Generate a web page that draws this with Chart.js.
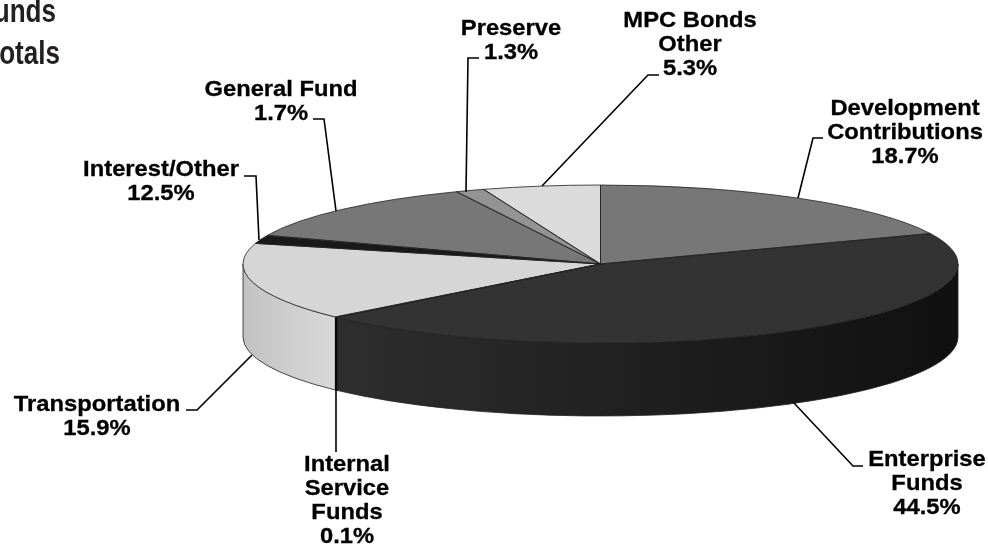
<!DOCTYPE html>
<html>
<head>
<meta charset="utf-8">
<style>
  html, body { margin: 0; padding: 0; background: #fff; overflow: hidden; }
  canvas { display: block; }
</style>
<script src="https://cdn.jsdelivr.net/npm/chart.js@4/dist/chart.umd.min.js"></script>
</head>
<body>
<canvas id="fundsPie" width="988" height="544"></canvas>
<script>
// slice order, clockwise from 12 o'clock
const categories = ['Development Contributions', 'Enterprise Funds', 'Internal Service Funds', 'Transportation',
  'General Fund', 'Interest/Other', 'Preserve', 'MPC Bonds Other'];
const shares = [18.7, 44.5, 0.1, 15.9, 1.7, 12.5, 1.3, 5.3];
const topColors = ['#777777', '#333333', '#111111', '#d6d6d6', '#1a1a1a', '#777777', '#939393', '#dbdbdb'];
const wallFrom = ['#555555', '#2e2e2e', '#111111', '#c2c2c2', '#111111', '#555555', '#666666', '#aaaaaa'];
const wallTo = ['#555555', '#101010', '#111111', '#d9d9d9', '#111111', '#555555', '#666666', '#aaaaaa'];

// the labels, line by line
const labelLines = [
  ['Development', 'Contributions', '18.7%'],
  ['Enterprise', 'Funds', '44.5%'],
  ['Internal', 'Service', 'Funds', '0.1%'],
  ['Transportation', '15.9%'],
  ['Interest/Other', '12.5%'],
  ['General Fund', '1.7%'],
  ['Preserve', '1.3%'],
  ['MPC Bonds', 'Other', '5.3%']
];
// label centre x, first baseline y
const labelAt = [[905, 115], [927, 466], [347, 471], [97, 411], [161, 176], [281, 96], [511, 35], [690, 27]];
const leaders = [
  [[798, 198], [813, 138], [823, 138]],
  [[794, 403], [853, 466], [863, 466]],
  [[336, 318], [336, 452]],
  [[252, 355], [197, 410], [186, 410]],
  [[259, 240], [256, 176], [244, 176]],
  [[336, 211], [324, 119], [313, 119]],
  [[466, 192], [468, 58], [479, 58]],
  [[542, 186], [648, 75], [659, 75]]
];
const titleLines = ['unds', 'otals'];

// the pie is squashed to an ellipse and given a wall
const PIE_RX = 357.5;
const PIE_RY = 79;
const PIE_DEPTH = 73;

function squash(ctx, arc) {
  ctx.translate(arc.x, arc.y);
  ctx.scale(PIE_RX / arc.outerRadius, PIE_RY / arc.outerRadius);
  ctx.translate(-arc.x, -arc.y);
}

const pie3d = {
  id: 'pie3d',
  beforeDatasetsDraw(chart) {
    const ctx = chart.ctx;
    const arcs = chart.getDatasetMeta(0).data;
    const cx = arcs[0].x, cy = arcs[0].y;
    // wall first, only the part of each slice that faces us
    arcs.forEach((arc, i) => {
      const a0 = Math.max(arc.startAngle, 0);
      const a1 = Math.min(arc.endAngle, Math.PI);
      if (a1 <= a0) return;
      const x0 = cx + PIE_RX * Math.cos(a1);
      const x1 = cx + PIE_RX * Math.cos(a0);
      const grad = ctx.createLinearGradient(x0, 0, x1, 0);
      grad.addColorStop(0, wallFrom[i]);
      grad.addColorStop(1, wallTo[i]);
      ctx.beginPath();
      ctx.ellipse(cx, cy, PIE_RX, PIE_RY, 0, a0, a1);
      ctx.ellipse(cx, cy + PIE_DEPTH, PIE_RX, PIE_RY, 0, a1, a0, true);
      ctx.closePath();
      ctx.fillStyle = grad;
      ctx.fill();
      ctx.strokeStyle = '#222222';
      ctx.lineWidth = 0.8;
      ctx.stroke();
    });
    ctx.save();
    squash(ctx, arcs[0]);
  },
  afterDatasetsDraw(chart) {
    const ctx = chart.ctx;
    ctx.restore();
    const arcs = chart.getDatasetMeta(0).data;
    // outlines after the restore so the pen stays round
    arcs.forEach(arc => {
      ctx.save();
      squash(ctx, arc);
      ctx.beginPath();
      ctx.moveTo(arc.x, arc.y);
      ctx.arc(arc.x, arc.y, arc.outerRadius, arc.startAngle, arc.endAngle);
      ctx.closePath();
      ctx.restore();
      ctx.strokeStyle = '#222222';
      ctx.lineWidth = 0.8;
      ctx.stroke();
    });
  },
  afterDraw(chart) {
    const ctx = chart.ctx;
    ctx.save();
    ctx.strokeStyle = '#000';
    ctx.lineWidth = 1.6;
    leaders.forEach(pts => {
      ctx.beginPath();
      pts.forEach((p, i) => i ? ctx.lineTo(p[0], p[1]) : ctx.moveTo(p[0], p[1]));
      ctx.stroke();
    });

    ctx.fillStyle = '#000';
    ctx.textAlign = 'center';
    ctx.textBaseline = 'alphabetic';
    ctx.font = 'bold 22px "Liberation Sans", Arial, sans-serif';
    ctx.lineWidth = 0.3;
    labelLines.forEach((lines, i) => {
      lines.forEach((line, n) => {
        ctx.save();
        ctx.translate(labelAt[i][0], labelAt[i][1] + n * 24);
        ctx.scale(1.08, 1);
        ctx.fillText(line, 0, 0);
        ctx.strokeText(line, 0, 0);
        ctx.restore();
      });
    });

    // title runs off the left edge of the picture
    ctx.fillStyle = '#231f20';
    ctx.textAlign = 'right';
    ctx.font = 'bold 33px "Liberation Sans", Arial, sans-serif';
    titleLines.forEach((line, n) => {
      ctx.save();
      ctx.translate(n ? 60 : 56, 21.5 + n * 42);
      ctx.scale(0.79, 1);
      ctx.fillText(line, 0, 0);
      ctx.restore();
    });
    ctx.restore();
  }
};

new Chart(document.getElementById('fundsPie'), {
  type: 'pie',
  plugins: [pie3d],
  data: {
    labels: categories,
    datasets: [{
      data: shares,
      backgroundColor: topColors,
      borderWidth: 0,
      clip: false
    }]
  },
  options: {
    responsive: false,
    animation: false,
    layout: { padding: { left: 213, right: 0, top: 0, bottom: 16 } },
    plugins: { legend: { display: false }, tooltip: { enabled: false } }
  }
});
</script>
</body>
</html>
